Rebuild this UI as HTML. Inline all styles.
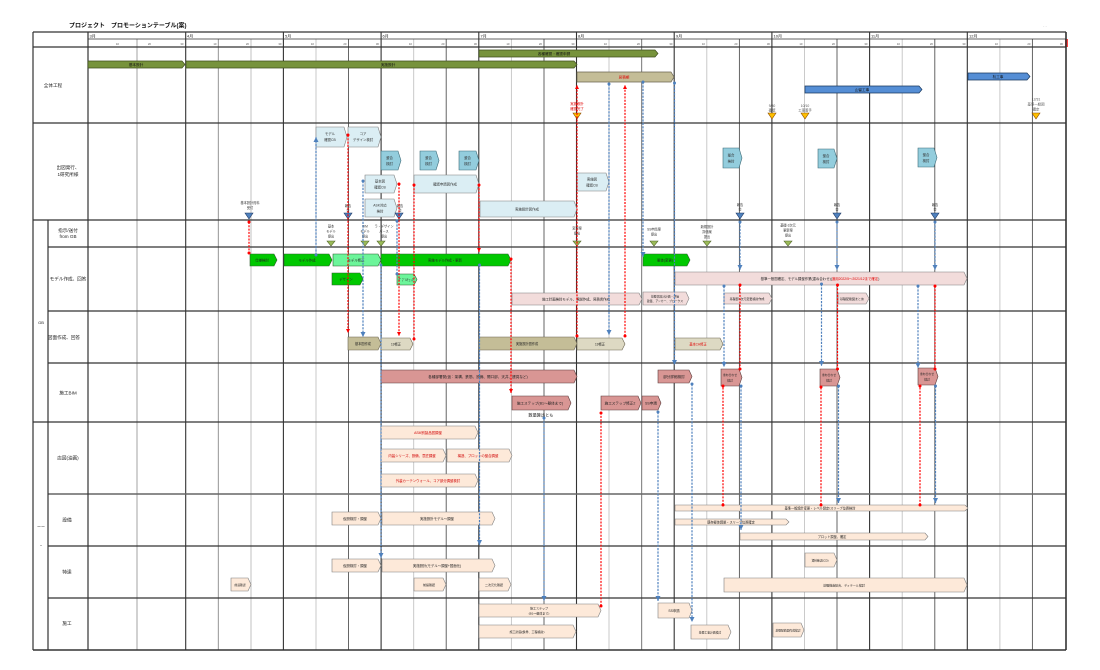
<!DOCTYPE html>
<html><head><meta charset="utf-8"><style>
html,body{margin:0;padding:0;background:#fff;}
svg{display:block;}
text{font-family:"Liberation Sans","Noto Sans CJK JP",sans-serif;}
</style></head><body>
<svg width="1100" height="670" viewBox="0 0 1100 670" xmlns="http://www.w3.org/2000/svg">
<defs>
<marker id="ar" viewBox="0 0 6 6" refX="6" refY="3" markerWidth="4" markerHeight="4" markerUnits="userSpaceOnUse" orient="auto"><path d="M0,0 L6,3 L0,6z" fill="#FF0000"/></marker>
<marker id="ab" viewBox="0 0 6 6" refX="6" refY="3" markerWidth="5" markerHeight="5" markerUnits="userSpaceOnUse" orient="auto"><path d="M0,0 L6,3 L0,6z" fill="#4F81BD"/></marker>
<marker id="dr" viewBox="0 0 4 4" refX="2" refY="2" markerWidth="3" markerHeight="3" markerUnits="userSpaceOnUse"><circle cx="2" cy="2" r="2" fill="#FF0000"/></marker>
<marker id="db" viewBox="0 0 4 4" refX="2" refY="2" markerWidth="3" markerHeight="3" markerUnits="userSpaceOnUse"><circle cx="2" cy="2" r="2" fill="#4F81BD"/></marker>
</defs>

<!-- title -->
<text x="69" y="27.5" font-size="6" font-weight="bold" fill="#111">プロジェクト　プロモーションテーブル(案)</text>
<text x="1043" y="27" font-size="4" fill="#bbb">- -</text>
<rect x="1065" y="39" width="3" height="8" fill="#FF4040"/>

<!-- grid: sub lines -->
<g stroke-width="0.9">
<line x1="137" y1="39" x2="137" y2="650" stroke="#999"/>
<line x1="218.3" y1="39" x2="218.3" y2="650" stroke="#888"/>
<line x1="251" y1="39" x2="251" y2="650" stroke="#BBB"/>
<line x1="316" y1="39" x2="316" y2="650" stroke="#C4C4C4"/>
<line x1="348.5" y1="39" x2="348.5" y2="650" stroke="#555"/>
<line x1="413.7" y1="39" x2="413.7" y2="650" stroke="#C4C4C4"/>
<line x1="446.2" y1="39" x2="446.2" y2="650" stroke="#555"/>
<line x1="511.4" y1="39" x2="511.4" y2="650" stroke="#C4C4C4"/>
<line x1="544" y1="39" x2="544" y2="650" stroke="#555"/>
<line x1="609" y1="39" x2="609" y2="650" stroke="#C4C4C4"/>
<line x1="641.7" y1="39" x2="641.7" y2="650" stroke="#666"/>
<line x1="706.8" y1="39" x2="706.8" y2="650" stroke="#C4C4C4"/>
<line x1="739.4" y1="39" x2="739.4" y2="650" stroke="#555"/>
<line x1="804.5" y1="39" x2="804.5" y2="650" stroke="#C4C4C4"/>
<line x1="837" y1="39" x2="837" y2="650" stroke="#555"/>
<line x1="902.2" y1="39" x2="902.2" y2="650" stroke="#C4C4C4"/>
<line x1="934.8" y1="39" x2="934.8" y2="650" stroke="#555"/>
<line x1="999.9" y1="39" x2="999.9" y2="650" stroke="#C4C4C4"/>
<line x1="1032.4" y1="39" x2="1032.4" y2="650" stroke="#555"/>
</g>
<!-- month lines -->
<g stroke="#333" stroke-width="1.1">
<line x1="185.7" y1="32" x2="185.7" y2="650"/>
<line x1="283.4" y1="32" x2="283.4" y2="650"/>
<line x1="381.1" y1="32" x2="381.1" y2="650"/>
<line x1="478.8" y1="32" x2="478.8" y2="650"/>
<line x1="576.5" y1="32" x2="576.5" y2="650"/>
<line x1="674.2" y1="32" x2="674.2" y2="650"/>
<line x1="771.9" y1="32" x2="771.9" y2="650"/>
<line x1="869.6" y1="32" x2="869.6" y2="650"/>
<line x1="967.3" y1="32" x2="967.3" y2="650"/>
</g>
<!-- frame & horizontal -->
<g stroke="#333" stroke-width="1.2">
<line x1="33" y1="32" x2="1066" y2="32"/>
<line x1="88" y1="39" x2="1066" y2="39" stroke-width="0.8"/>
<line x1="33" y1="47" x2="1066" y2="47"/>
<line x1="33" y1="123" x2="1066" y2="123"/>
<line x1="33" y1="220" x2="1066" y2="220"/>
<line x1="48" y1="247" x2="1066" y2="247"/>
<line x1="48" y1="311" x2="1066" y2="311"/>
<line x1="48" y1="363" x2="1066" y2="363"/>
<line x1="33" y1="422" x2="1066" y2="422"/>
<line x1="48" y1="494" x2="1066" y2="494" stroke="#666" stroke-width="1.6"/>
<line x1="48" y1="546" x2="1066" y2="546"/>
<line x1="48" y1="598" x2="1066" y2="598"/>
<line x1="33" y1="650" x2="1066" y2="650" stroke-width="1.6"/>
<line x1="33" y1="32" x2="33" y2="650"/>
<line x1="48" y1="220" x2="48" y2="650"/>
<line x1="88" y1="32" x2="88" y2="650"/>
<line x1="1066" y1="32" x2="1066" y2="650" stroke-width="1.6"/>
</g>

<!-- header labels -->
<g font-size="4" fill="#222">
<text x="89.5" y="37.5">3月</text>
<text x="187" y="37.5">4月</text>
<text x="285" y="37.5">5月</text>
<text x="382.5" y="37.5">6月</text>
<text x="480.5" y="37.5">7月</text>
<text x="578" y="37.5">8月</text>
<text x="676" y="37.5">9月</text>
<text x="773.5" y="37.5">10月</text>
<text x="871" y="37.5">11月</text>
<text x="969" y="37.5">12月</text>
</g>
<g font-size="2.8" fill="#555" text-anchor="end">
<text x="119" y="45">10</text><text x="151" y="45">20</text><text x="183.5" y="45">30</text>
<text x="216.5" y="45">10</text><text x="249" y="45">20</text><text x="281.5" y="45">30</text>
<text x="314" y="45">10</text><text x="346.5" y="45">20</text><text x="379" y="45">30</text>
<text x="412" y="45">10</text><text x="444.5" y="45">20</text><text x="477" y="45">30</text>
<text x="509.5" y="45">10</text><text x="542" y="45">20</text><text x="574.5" y="45">30</text>
<text x="607" y="45">10</text><text x="640" y="45">20</text><text x="672.5" y="45">30</text>
<text x="705" y="45">10</text><text x="737.5" y="45">20</text><text x="770" y="45">30</text>
<text x="802.5" y="45">10</text><text x="835" y="45">20</text><text x="867.5" y="45">30</text>
<text x="900" y="45">10</text><text x="933" y="45">20</text><text x="965.5" y="45">30</text>
<text x="998" y="45">10</text><text x="1030.5" y="45">20</text><text x="1063" y="45">30</text>
</g>

<!-- row labels -->
<g font-size="4.6" fill="#222" text-anchor="middle">
<text x="53" y="87">全体工程</text>
<text x="68" y="169">出図発行、</text>
<text x="68" y="176">1研究所様</text>
<text x="68" y="232">指示/送付</text>
<text x="68" y="238">from GB</text>
<text x="68" y="280.5">モデル作成、回答</text>
<text x="64" y="339">図面作成、回答</text>
<text x="68" y="394.5">施工BIM</text>
<text x="68" y="459.5">店図(油画)</text>
<text x="67" y="521.5">設備</text>
<text x="67" y="573.5">特達</text>
<text x="67" y="625">施工</text>
<text x="41" y="324" font-size="4">GB</text>
<text x="41" y="528" font-size="4">ーー</text>
<text x="41" y="546.5" font-size="4">ｰ</text>
</g>

<!-- 全体工程 bars -->
<g stroke-width="0.7">
<polygon points="88,61 182,61 185,64.5 182,68 88,68" fill="#77933C" stroke="#3F4F1E"/>
<polygon points="186,61 574,61 577,64.5 574,68 186,68" fill="#77933C" stroke="#3F4F1E"/>
<polygon points="479,50 655,50 658,53.5 655,57 479,57" fill="#77933C" stroke="#3F4F1E"/>
<polygon points="577,72 671,72 674,77 671,82 577,82" fill="#C4BD97" stroke="#6b6450"/>
<polygon points="805,86 919,86 922,89.5 919,93 805,93" fill="#558ED5" stroke="#17375E"/>
<polygon points="968,73 1027,73 1030,76.5 1027,80 968,80" fill="#558ED5" stroke="#17375E"/>
</g>
<g font-size="3.6" text-anchor="middle" fill="#111">
<text x="136" y="66">基本設計</text>
<text x="388" y="66">実施設計</text>
<text x="554" y="55">各種確認・確認申請</text>
<text x="624" y="78.5" fill="#E00000">見積期</text>
<text x="862" y="91">山留工事</text>
<text x="998" y="78">杭工事</text>
</g>
<!-- orange milestones -->
<g fill="#FFC000" stroke="#8a4a00" stroke-width="0.6">
<polygon points="573,113 581,113 577,119"/>
<polygon points="768,113 776,113 772,119"/>
<polygon points="801,113 809,113 805,119"/>
<polygon points="1032,113 1040,113 1036,119"/>
</g>
<g font-size="3.4" text-anchor="middle" fill="#555">
<text x="577" y="105" fill="#E00000">実施設計</text><text x="577" y="110" fill="#E00000">確認完了</text>
<text x="772" y="107">9/30</text><text x="772" y="111.5">確認</text>
<text x="805" y="107">10/10</text><text x="805" y="111.5">工事着手</text>
<text x="1036" y="100.5">12/31</text><text x="1036" y="105.5">基準一般図</text><text x="1036" y="110.5">確定</text>
</g>

<!-- 出図発行 boxes -->
<g stroke="#7F7F7F" stroke-width="0.6">
<polygon points="316,127 344,127 347,137 344,147 316,147" fill="#DBEEF4"/>
<polygon points="348,127 378,127 381,137 378,147 348,147" fill="#DBEEF4"/>
<polygon points="365,175 394,175 397,184 394,193 365,193" fill="#DBEEF4"/>
<polygon points="414,175 476,175 479,184 476,193 414,193" fill="#DBEEF4"/>
<polygon points="365,199 394,199 397,208 394,217 365,217" fill="#DBEEF4"/>
<polygon points="480,201 574,201 577,209 574,217 480,217" fill="#DBEEF4"/>
<polygon points="577,173 606,173 609,182 606,191 577,191" fill="#DBEEF4"/>
</g>
<g fill="#93CDDD" stroke="#3d6b78" stroke-width="0.6">
<polygon points="381,151 398,151 401,160.5 398,170 381,170"/>
<polygon points="420,151 436,151 439,160.5 436,170 420,170"/>
<polygon points="459,151 476,151 479,160.5 476,170 459,170"/>
<polygon points="723,148 739,148 742,158 739,168 723,168"/>
<polygon points="818,149 834,149 837,158.5 834,168 818,168"/>
<polygon points="918,148 934,148 937,157.5 934,167 918,167"/>
</g>
<g font-size="3.4" text-anchor="middle" fill="#333">
<text x="330" y="135">モデル</text><text x="330" y="141">確認CB</text>
<text x="363" y="135">コア</text><text x="363" y="141">デザイン検討</text>
<text x="389.5" y="159">整合</text><text x="389.5" y="165">検討</text>
<text x="428.5" y="159">整合</text><text x="428.5" y="165">検討</text>
<text x="467.5" y="159">整合</text><text x="467.5" y="165">検討</text>
<text x="731" y="156.5">整合</text><text x="731" y="162.5">検討</text>
<text x="826" y="157">整合</text><text x="826" y="163">検討</text>
<text x="926" y="156">整合</text><text x="926" y="162">検討</text>
<text x="380" y="182.5">基本図</text><text x="380" y="188.5">確認CB</text>
<text x="445" y="185.5">確認申請図作成</text>
<text x="380" y="206.5">ASK対応</text><text x="380" y="212.5">検討</text>
<text x="527" y="210.5">実施設計図作成</text>
<text x="592" y="180.5">実施図</text><text x="592" y="186.5">確認CB</text>
</g>
<!-- blue triangles -->
<g fill="#4F81BD" stroke="#1F3864" stroke-width="0.6">
<polygon points="245,213 253,213 249,219"/>
<polygon points="344,213 352,213 348,219"/>
<polygon points="395,213 403,213 399,219"/>
<polygon points="736,213 744,213 740,219"/>
<polygon points="833,213 841,213 837,219"/>
<polygon points="931,213 939,213 935,219"/>
</g>
<g font-size="3.2" text-anchor="middle" fill="#333">
<text x="250" y="204">基本設計資料</text><text x="250" y="209">受付</text>
<text x="348" y="207">報告</text><text x="348" y="211.5">会</text>
<text x="400" y="207">報告</text><text x="400" y="211.5">会</text>
<text x="740" y="206">報告</text><text x="740" y="210.5">会</text>
<text x="837" y="206">報告</text><text x="837" y="210.5">会</text>
<text x="935" y="206">報告</text><text x="935" y="210.5">会</text>
</g>

<!-- 指示/送付 green triangles -->
<g fill="#9BBB59" stroke="#4F6228" stroke-width="0.6">
<polygon points="327,241 335,241 331,246"/>
<polygon points="361,241 369,241 365,246"/>
<polygon points="377,241 385,241 381,246"/>
<polygon points="573,241 581,241 577,246"/>
<polygon points="650,241 658,241 654,246"/>
<polygon points="703,241 711,241 707,246"/>
<polygon points="784,241 792,241 788,246"/>
</g>
<g font-size="3.2" text-anchor="middle" fill="#333">
<text x="331" y="227.5">基本</text><text x="331" y="232.5">モデル</text><text x="331" y="237.5">提出</text>
<text x="365" y="227.5">BIM</text><text x="365" y="232.5">モデル</text><text x="365" y="237.5">提出</text>
<text x="384" y="227.5">ラ・デザイン</text><text x="384" y="232.5">パース</text><text x="384" y="237.5">提出</text>
<text x="577" y="229.5">変更案</text><text x="577" y="234.5">提出</text>
<text x="654" y="230.5">SS申請案</text><text x="654" y="235.5">提出</text>
<text x="707" y="228">新規設計</text><text x="707" y="233">評価案</text><text x="707" y="238">提出</text>
<text x="788" y="226.5">基礎-3次元</text><text x="788" y="231.5">更新案</text><text x="788" y="236.5">提出</text>
</g>

<!-- モデル作成 boxes -->
<g stroke="#2f5e2f" stroke-width="0.6">
<polygon points="250,254 274,254 277,260 274,266 250,266" fill="#00C800"/>
<polygon points="284,254 329,254 332,260 329,266 284,266" fill="#00C800"/>
<polygon points="333,254 378,254 381,260 378,266 333,266" fill="#6CF59A"/>
<polygon points="381,254 508,254 511,260 508,266 381,266" fill="#00C800"/>
<polygon points="332,273 360,273 363,279 360,285 332,285" fill="#00C800"/>
<polygon points="397,274 414,274 417,279.5 414,285 397,285" fill="#6CF59A"/>
<polygon points="643,254 687,254 690,260 687,266 643,266" fill="#00C800"/>
</g>
<g stroke="#7F7F7F" stroke-width="0.6" fill="#F2DCDB">
<polygon points="675,272 964,272 967,278.5 964,285 675,285"/>
<polygon points="512,293 639,293 642,299 639,305 512,305"/>
<polygon points="643,292 686,292 689,298.5 686,305 643,305"/>
<polygon points="724,293 769,293 772,298.5 769,304 724,304"/>
<polygon points="838,293 866,293 869,298.5 866,304 838,304"/>
</g>
<g font-size="3.4" text-anchor="middle" fill="#222">
<text x="262" y="261.3">仕様検討</text>
<text x="307" y="261.3">モデル作成</text>
<text x="356" y="261.3">モデル修正</text>
<text x="445" y="261.3">実施モデル作成・更新</text>
<text x="346" y="280.3">デザイン</text>
<text x="406" y="280.8">ﾀﾞﾌﾞﾙﾁｪｯｸ</text>
<text x="665" y="261.3">躯体(変更)</text>
<text x="820" y="279.8">基準一般図確定、モデル調整作業(重ね合わせ)(<tspan fill="#E00000">適用2022/5～2021/12まで確定</tspan>)</text>
<text x="576" y="300.3">施工計画検討モデル、現説作成、見積書作成</text>
<text x="665" y="297.5" font-size="2.8">基礎部設計計画・評価</text><text x="665" y="302" font-size="2.8">建築、アンカー、ブロークス</text>
<text x="747" y="299.8" font-size="3">基礎部3次元変更検討作成</text>
<text x="852" y="299.8" font-size="3">基礎配筋図まとめ</text>
</g>

<!-- 図面作成 boxes -->
<g stroke="#6b6450" stroke-width="0.6">
<polygon points="348,337 378,337 381,343.5 378,350 348,350" fill="#C4BD97"/>
<polygon points="381,338 410,338 413,344 410,350 381,350" fill="#DDD9C3"/>
<polygon points="479,337 574,337 577,343.5 574,350 479,350" fill="#C4BD97"/>
<polygon points="577,338 622,338 625,344 622,350 577,350" fill="#DDD9C3"/>
<polygon points="675,338 720,338 723,344 720,350 675,350" fill="#DDD9C3"/>
</g>
<g font-size="3.2" text-anchor="middle" fill="#222">
<text x="363" y="344.8">基本図作成</text>
<text x="396" y="345.3">19修正</text>
<text x="527" y="344.8">実施設計図作成</text>
<text x="600" y="345.3">19修正</text>
<text x="698" y="345.3" fill="#E00000">基本CH修正</text>
</g>

<!-- 施工BIM boxes -->
<g fill="#D99694" stroke="#5a3a3a" stroke-width="0.6">
<polygon points="381,370 574,370 577,376.5 574,383 381,383"/>
<polygon points="512,396 568,396 571,403 568,410 512,410"/>
<polygon points="601,396 638,396 641,403 638,410 601,410"/>
<polygon points="642,396 658,396 661,403 658,410 642,410"/>
<polygon points="658,370 689,370 692,376.5 689,383 658,383"/>
<polygon points="721,369 739,369 742,377.5 739,386 721,386"/>
<polygon points="820,369 837,369 840,377.5 837,386 820,386"/>
<polygon points="918,368 935,368 938,376.5 935,385 918,385"/>
</g>
<g font-size="3.6" text-anchor="middle" fill="#222">
<text x="478" y="378">各種部署発(仮：架構、鉄筋、設備、開口部、天井、建具など)</text>
<text x="540" y="404.3">施工ステップ(B1～躯体まで)</text>
<text x="620" y="404.3">施工ステップ修正2</text>
<text x="651" y="404.3">SS申請</text>
<text x="674" y="378">部分詳細検討</text>
<text x="730" y="376" font-size="2.8">重ね合わせ</text><text x="730" y="381.5" font-size="2.8">検討</text>
<text x="829" y="376" font-size="2.8">重ね合わせ</text><text x="829" y="381.5" font-size="2.8">検討</text>
<text x="927" y="375" font-size="2.8">重ね合わせ</text><text x="927" y="380.5" font-size="2.8">検討</text>
<text x="541" y="416.5" font-size="4.2">数量算出とも</text>
</g>

<!-- 店図 row -->
<g fill="#FDE9D9" stroke="#7F7F7F" stroke-width="0.6">
<polygon points="381,426 475,426 478,432.5 475,439 381,439"/>
<polygon points="381,449 443,449 446,455.5 443,462 381,462"/>
<polygon points="447,449 509,449 512,455.5 509,462 447,462"/>
<polygon points="381,474 475,474 478,480.5 475,487 381,487"/>
</g>
<g font-size="3.4" text-anchor="middle" fill="#D00000">
<text x="428" y="434">ASM別製品図調整</text>
<text x="412" y="457">内装シリーズ、設備、意匠調整</text>
<text x="478" y="457">構造、プロットの整合調整</text>
<text x="428" y="482">外装カーテンウォール、コア部分調整検討</text>
</g>

<!-- 設備 / 特達 / 施工 -->
<g fill="#FDE9D9" stroke="#7F7F7F" stroke-width="0.6">
<polygon points="332,512 378,512 381,518.5 378,525 332,525"/>
<polygon points="382,512 492,512 495,518.5 492,525 382,525"/>
<polygon points="675,505 965,505 968,508 965,511 675,511"/>
<polygon points="675,519 786,519 789,522 786,525 675,525"/>
<polygon points="740,533 925,533 928,536.5 925,540 740,540"/>
<polygon points="332,559 378,559 381,565.5 378,572 332,572"/>
<polygon points="382,559 492,559 495,565.5 492,572 382,572"/>
<polygon points="414,578 443,578 446,584.5 443,591 414,591"/>
<polygon points="479,578 508,578 511,584.5 508,591 479,591"/>
<polygon points="231,578 248,578 251,584.5 248,591 231,591"/>
<polygon points="805,553 834,553 837,560 834,567 805,567"/>
<polygon points="724,578 964,578 967,585 964,592 724,592"/>
<polygon points="479,604 598,604 601,610.5 598,617 479,617"/>
<polygon points="479,625 573,625 576,631.5 573,638 479,638"/>
<polygon points="658,603 689,603 692,610.5 689,618 658,618"/>
<polygon points="691,625 728,625 731,632 728,639 691,639"/>
<polygon points="773,623 801,623 804,630 801,637 773,637"/>
</g>
<g font-size="3.4" text-anchor="middle" fill="#222">
<text x="355" y="519.8">仮設検討・調整</text>
<text x="437" y="519.8">実施設計モデル～調整</text>
<text x="820" y="509.3" font-size="3.2">基準一般設計変更・レベル設定/スリーブ位置検討</text>
<text x="731" y="523.3" font-size="3.2">既存躯体調整・スリーブ位置確定</text>
<text x="832" y="538" font-size="3.2">プロット調整、確定</text>
<text x="355" y="566.8">仮設検討・調整</text>
<text x="437" y="566.8">実施設計(モデル～調整+図面化)</text>
<text x="429" y="585.8" font-size="3">前提確認</text>
<text x="494" y="585.8" font-size="3">二次元化確認</text>
<text x="240" y="585.8" font-size="2.8">前設確認</text>
<text x="820" y="561.3" font-size="2.8">資料確認(CD)</text>
<text x="844" y="586.3" font-size="3">基礎構造総合、ディテール検討</text>
<text x="539" y="609.5" font-size="3">施工ステップ</text><text x="539" y="614.5" font-size="3">(B1～躯体まで)</text>
<text x="527" y="632.8" font-size="3">施工計画(鉄骨、工程検討)</text>
<text x="674" y="611.8">SS申請</text>
<text x="710" y="633.3" font-size="2.8">基礎工事計画検討</text>
<text x="788" y="631.3" font-size="2.8">基礎配筋図作成検討</text>
</g>

<!-- red connectors -->
<g stroke="#FF0000" stroke-width="1.2" stroke-dasharray="2,1.3" fill="none">
<line x1="249" y1="222" x2="249" y2="253" marker-start="url(#dr)" marker-end="url(#dr)"/>
<line x1="348" y1="135" x2="348" y2="333" marker-start="url(#dr)" marker-end="url(#ar)"/>
<line x1="399" y1="184" x2="399" y2="336" marker-start="url(#dr)" marker-end="url(#ar)"/>
<line x1="414" y1="185" x2="414" y2="339" marker-start="url(#dr)" marker-end="url(#dr)"/>
<line x1="479" y1="185" x2="479" y2="252" marker-start="url(#dr)" marker-end="url(#ar)"/>
<line x1="511" y1="259" x2="511" y2="393" marker-start="url(#dr)" marker-end="url(#ar)"/>
<line x1="577" y1="336" x2="577" y2="85" marker-start="url(#dr)" marker-end="url(#ar)"/>
<line x1="601" y1="606" x2="601" y2="413" marker-start="url(#dr)" marker-end="url(#dr)"/>
<line x1="625" y1="336" x2="625" y2="85" marker-start="url(#dr)" marker-end="url(#ar)"/>
<line x1="723" y1="505" x2="723" y2="386" marker-start="url(#dr)" marker-end="url(#dr)"/>
<line x1="821" y1="505" x2="821" y2="387" marker-start="url(#dr)" marker-end="url(#dr)"/>
<line x1="920" y1="505" x2="920" y2="386" marker-start="url(#dr)" marker-end="url(#dr)"/>
<line x1="740" y1="285" x2="740" y2="369" marker-start="url(#dr)" marker-end="url(#dr)"/>
<line x1="837.5" y1="285" x2="837.5" y2="369" marker-start="url(#dr)" marker-end="url(#dr)"/>
<line x1="935" y1="286" x2="935" y2="369" marker-start="url(#dr)" marker-end="url(#dr)"/>
</g>
<!-- blue connectors -->
<g stroke="#4F81BD" stroke-width="1.2" stroke-dasharray="2.2,1.2" fill="none">
<line x1="316" y1="255" x2="316" y2="137" marker-start="url(#db)" marker-end="url(#ab)"/>
<line x1="363" y1="181" x2="363" y2="337" marker-start="url(#db)" marker-end="url(#ab)"/>
<line x1="381" y1="265" x2="381" y2="558" marker-start="url(#db)" marker-end="url(#ab)"/>
<line x1="397" y1="221" x2="397" y2="274" marker-start="url(#db)" marker-end="url(#db)"/>
<line x1="479.5" y1="265" x2="479.5" y2="545" marker-start="url(#db)" marker-end="url(#ab)"/>
<line x1="544" y1="418" x2="544" y2="601" marker-start="url(#db)" marker-end="url(#ab)"/>
<line x1="609" y1="84" x2="609" y2="335" marker-start="url(#db)" marker-end="url(#ab)"/>
<line x1="643" y1="82" x2="643" y2="257" marker-start="url(#db)" marker-end="url(#ab)"/>
<line x1="658" y1="412" x2="658" y2="601" marker-start="url(#db)" marker-end="url(#ab)"/>
<line x1="674.5" y1="83" x2="674.5" y2="365" marker-start="url(#db)" marker-end="url(#ab)"/>
<line x1="692" y1="384" x2="692" y2="622" marker-start="url(#db)" marker-end="url(#ab)"/>
<line x1="724" y1="286" x2="724" y2="367" marker-start="url(#db)" marker-end="url(#ab)"/>
<line x1="821.5" y1="284" x2="821.5" y2="366" marker-start="url(#db)" marker-end="url(#ab)"/>
<line x1="918" y1="286" x2="918" y2="368" marker-start="url(#db)" marker-end="url(#ab)"/>
<line x1="740" y1="222" x2="740" y2="270" marker-start="url(#db)" marker-end="url(#ab)"/>
<line x1="837" y1="222" x2="837" y2="270" marker-start="url(#db)" marker-end="url(#ab)"/>
<line x1="935" y1="222" x2="935" y2="270" marker-start="url(#db)" marker-end="url(#ab)"/>
<line x1="741" y1="386" x2="741" y2="530" marker-start="url(#db)" marker-end="url(#ab)"/>
<line x1="838.5" y1="386" x2="838.5" y2="503" marker-start="url(#db)" marker-end="url(#ab)"/>
<line x1="935.5" y1="386" x2="935.5" y2="503" marker-start="url(#db)" marker-end="url(#ab)"/>
</g>
</svg>
</body></html>
